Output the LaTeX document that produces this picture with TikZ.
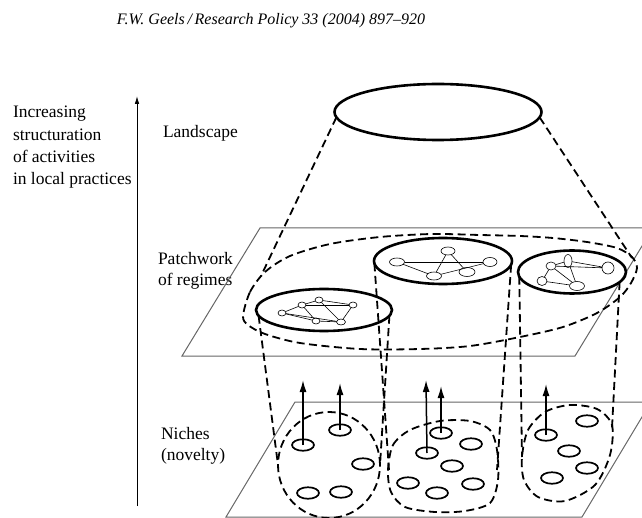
\documentclass[tikz,border=0pt]{standalone}
\usepackage{fontspec}
\setmainfont{Liberation Serif}
\usetikzlibrary{arrows.meta,shapes.geometric}

\begin{document}
\begin{tikzpicture}[x=1pt,y=-1pt,inner sep=0pt,outer sep=0pt,
>={Latex[length=12pt,width=7pt]},
lbl/.style={anchor=base west,align=left,font=\fontsize{17.5}{21}\selectfont},
plane/.style={draw=black!60,line width=1pt},
ring/.style={draw,ellipse,line width=2.6pt},
hull/.style={line width=1.8pt,dash pattern=on 8pt off 4.5pt},
niche/.style={draw,ellipse,line width=1.7pt,minimum width=22pt,minimum height=11.5pt},
actor/.style={draw,ellipse,line width=0.6pt},
link/.style={line width=0.6pt},
push/.style={->,line width=1.5pt}]
\clip (0,0) rectangle (642,518);
% source line
\draw (271,25) node[anchor=base,font=\fontsize{16}{19}\selectfont\itshape] (src) {F.W. Geels\,/\,Research Policy 33 (2004) 897--920};
% left axis (base = last line)
\draw (13,185) node[lbl,font=\fontsize{17.5}{22.4}\selectfont] (axislbl) {Increasing\\structuration\\of activities\\in local practices};
\coordinate (axbot) at (137,506);
\coordinate (axtop) at (137,96);
\draw[->,line width=0.8pt,>={Latex[length=8pt,width=4.5pt]}] (axbot) -- (axtop);
\draw (163,138) node[lbl] (lland) {Landscape};
\draw (158,286) node[lbl] (lreg) {Patchwork\\of regimes};
\draw (161,460) node[lbl] (lniche) {Niches\\(novelty)};
% planes
\draw[plane] (260,228) -- (653,228) -- (575,356) -- (182,356) -- cycle;
\draw[plane] (295,402) -- (651,402) -- (582,517) -- (226,517) -- cycle;
% landscape and cone
\draw (438,112) node[ring,minimum width=207pt,minimum height=56pt] (land) {};
\coordinate (coneL) at (261,276);
\coordinate (coneR) at (632,258);
\draw[hull] (land.183) -- (coneL);
\draw[hull] (land.-3) -- (coneR);
% patchwork of regimes
\draw[hull] plot[smooth cycle] coordinates {(243,316) (250,292) (265,272) (290,256) (330,244) (380,237) (432,234) (480,235) (520,236) (553,238) (587,242) (617,248) (632,257) (637,268) (631,283) (620,297) (597,313) (563,327) (520,337) (470,346) (420,349) (360,349) (300,343) (265,334) (248,325)};
\draw (324,310) node[ring,minimum width=136pt,minimum height=42pt] (regL) {};
\draw (443,261) node[ring,minimum width=138pt,minimum height=46pt] (regM) {};
\draw (572,272) node[ring,minimum width=108pt,minimum height=43pt] (regR) {};
% actors in regimes
\draw (282,313) node[actor,minimum width=8pt,minimum height=6pt] (a1) {};
\draw (302,305) node[actor,minimum width=8pt,minimum height=6pt] (a2) {};
\draw (319,300) node[actor,minimum width=8pt,minimum height=6pt] (a3) {};
\draw (316,321) node[actor,minimum width=8pt,minimum height=6pt] (a4) {};
\draw (341,322) node[actor,minimum width=9pt,minimum height=6pt] (a5) {};
\draw (353,305) node[actor,minimum width=8pt,minimum height=6pt] (a6) {};
\draw[link] (a1) -- (a2) -- (a3) -- (a6) -- (a5) -- (a4) -- (a1);
\draw[link] (a2) -- (a4);
\draw[link] (a3) -- (a5);
\draw[link] (a2) -- (a6);
\draw[link] (a1) -- (a5);
\draw (397,262) node[actor,minimum width=15pt,minimum height=8pt] (b1) {};
\draw (448,251) node[actor,minimum width=14pt,minimum height=8pt] (b2) {};
\draw (434,276) node[actor,minimum width=15pt,minimum height=8pt] (b3) {};
\draw (467,272) node[actor,minimum width=16pt,minimum height=9pt] (b4) {};
\draw (490,262) node[actor,minimum width=14pt,minimum height=9pt] (b5) {};
\draw[link] (b1) -- (b3) -- (b2);
\draw[link] (b1) -- (b5);
\draw[link] (b3) -- (b5);
\draw[link] (b2) -- (b4);
\draw (551,266) node[actor,minimum width=10pt,minimum height=8pt] (c1) {};
\draw (568,261) node[actor,minimum width=8pt,minimum height=13pt] (c2) {};
\draw (608,268) node[actor,minimum width=12pt,minimum height=12pt] (c3) {};
\draw (542,281) node[actor,minimum width=10pt,minimum height=9pt] (c4) {};
\draw (577,286) node[actor,minimum width=15pt,minimum height=9pt] (c5) {};
\draw[link] (c1) -- (c2) -- (c3) -- (c1);
\draw[link] (c4) -- (c1) -- (c5) -- (c4);
\draw[link] (c2) -- (c5);
% niches
\draw (329,465) node[draw,ellipse,hull,minimum width=102pt,minimum height=106pt] (nicheL) {};
\draw[hull] plot[smooth cycle] coordinates {(388,470) (393,445) (410,430) (440,421) (470,421) (490,430) (497,450) (498,480) (490,503) (465,511) (435,512) (405,507) (391,492)};
\draw[hull] plot[smooth cycle] coordinates {(522,457) (528,430) (545,412) (570,405) (597,409) (612,425) (610,455) (595,485) (565,501) (538,497) (524,480)};
\coordinate (nicheMw) at (389,470);
\coordinate (nicheMe) at (497,470);
\coordinate (nicheRw) at (522,457);
\coordinate (nicheRe) at (612,428);
\draw[hull] (regL.185) -- (nicheL.west);
\draw[hull] (regL.-5) -- (nicheL.east);
\draw[hull] (regM.182) -- (nicheMw);
\draw[hull] (regM.-3) -- (nicheMe);
\draw[hull] (regR.185) -- (nicheRw);
\draw[hull] (regR.-12) -- (nicheRe);
% novelties
\draw (303,445) node[niche] (nl1) {};
\draw (340,430) node[niche] (nl2) {};
\draw (363,464) node[niche] (nl3) {};
\draw (308,493) node[niche] (nl4) {};
\draw (341,492) node[niche] (nl5) {};
\draw (441,433) node[niche] (nm1) {};
\draw (471,444) node[niche] (nm2) {};
\draw (427,453) node[niche] (nm3) {};
\draw (452,466) node[niche] (nm4) {};
\draw (408,483) node[niche] (nm5) {};
\draw (437,493) node[niche] (nm6) {};
\draw (473,484) node[niche] (nm7) {};
\draw (546,435) node[niche] (nr1) {};
\draw (587,421) node[niche] (nr2) {};
\draw (569,451) node[niche] (nr3) {};
\draw (587,468) node[niche] (nr4) {};
\draw (552,478) node[niche] (nr5) {};
% upward pushes
\coordinate (tl1) at (303,380);
\coordinate (tl2) at (340,383);
\coordinate (tm3) at (426,380);
\coordinate (tm1) at (441,386);
\coordinate (tr1) at (546,384);
\draw[push] (nl1.center) -- (tl1);
\draw[push] (nl2.center) -- (tl2);
\draw[push] (nm3.center) -- (tm3);
\draw[push] (nm1.center) -- (tm1);
\draw[push] (nr1.center) -- (tr1);
\end{tikzpicture}
\end{document}
